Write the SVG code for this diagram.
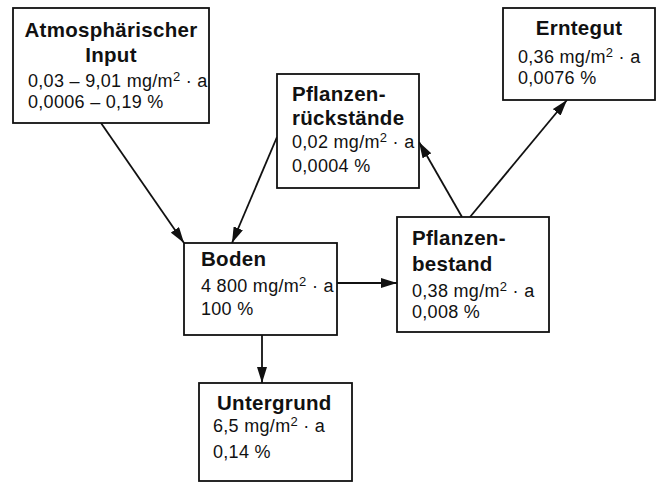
<svg xmlns="http://www.w3.org/2000/svg" width="658" height="483" viewBox="0 0 658 483">
<style>
.box{fill:#fff;stroke:#111;stroke-width:1.8}
.b{font-family:"Liberation Sans",Arial,sans-serif;font-weight:bold;font-size:20.5px;letter-spacing:0.3px;fill:#111}
.r{font-family:"Liberation Sans",Arial,sans-serif;font-size:18px;letter-spacing:0.3px;fill:#111}
.sup{font-size:13px}
.c{fill:none;stroke:#111;stroke-width:1.8}
</style>
<defs>
<marker id="ah" markerUnits="userSpaceOnUse" markerWidth="16" markerHeight="10" refX="16" refY="5" orient="auto">
<path d="M0,0 L16,5 L0,10 z" fill="#111"/>
</marker>
</defs>
<rect width="658" height="483" fill="#fff"/>
<g id="connectors">
<line class="c" x1="101" y1="123" x2="184" y2="243" marker-end="url(#ah)"/>
<line class="c" x1="277" y1="137" x2="232" y2="243" marker-end="url(#ah)"/>
<line class="c" x1="337" y1="283" x2="397" y2="283" marker-end="url(#ah)"/>
<line class="c" x1="462" y1="217" x2="419" y2="142" marker-end="url(#ah)"/>
<line class="c" x1="470" y1="217" x2="567" y2="100" marker-end="url(#ah)"/>
<line class="c" x1="262" y1="335" x2="262" y2="383" marker-end="url(#ah)"/>
</g>
<g id="atmos">
<rect class="box" x="13" y="8" width="196" height="115"/>
<text class="b" x="111" y="37" text-anchor="middle">Atmosphärischer</text>
<text class="b" x="111" y="62" text-anchor="middle">Input</text>
<text class="r" x="28" y="87">0,03 – 9,01 mg/m<tspan class="sup" dy="-6">2</tspan><tspan dy="6"> · a</tspan></text>
<text class="r" x="28" y="108">0,0006 – 0,19 %</text>
</g>
<g id="rueckstaende">
<rect class="box" x="277" y="74" width="142" height="114"/>
<text class="b" x="292" y="101">Pflanzen-</text>
<text class="b" x="292" y="125">rückstände</text>
<text class="r" x="292" y="148">0,02 mg/m<tspan class="sup" dy="-6">2</tspan><tspan dy="6"> · a</tspan></text>
<text class="r" x="292" y="172">0,0004 %</text>
</g>
<g id="erntegut">
<rect class="box" x="503" y="8" width="152" height="92"/>
<text class="b" x="579" y="35" text-anchor="middle">Erntegut</text>
<text class="r" x="518" y="63">0,36 mg/m<tspan class="sup" dy="-6">2</tspan><tspan dy="6"> · a</tspan></text>
<text class="r" x="518" y="84">0,0076 %</text>
</g>
<g id="boden">
<rect class="box" x="184" y="243" width="153" height="92"/>
<text class="b" x="201" y="266">Boden</text>
<text class="r" x="201" y="292">4 800 mg/m<tspan class="sup" dy="-6">2</tspan><tspan dy="6"> · a</tspan></text>
<text class="r" x="201" y="315">100 %</text>
</g>
<g id="bestand">
<rect class="box" x="397" y="217" width="152" height="115"/>
<text class="b" x="412" y="245">Pflanzen-</text>
<text class="b" x="412" y="271">bestand</text>
<text class="r" x="412" y="297">0,38 mg/m<tspan class="sup" dy="-6">2</tspan><tspan dy="6"> · a</tspan></text>
<text class="r" x="412" y="318">0,008 %</text>
</g>
<g id="untergrund">
<rect class="box" x="199" y="383" width="153" height="98"/>
<text class="b" x="217" y="410">Untergrund</text>
<text class="r" x="213" y="432">6,5 mg/m<tspan class="sup" dy="-6">2</tspan><tspan dy="6"> · a</tspan></text>
<text class="r" x="213" y="458">0,14 %</text>
</g>
</svg>
